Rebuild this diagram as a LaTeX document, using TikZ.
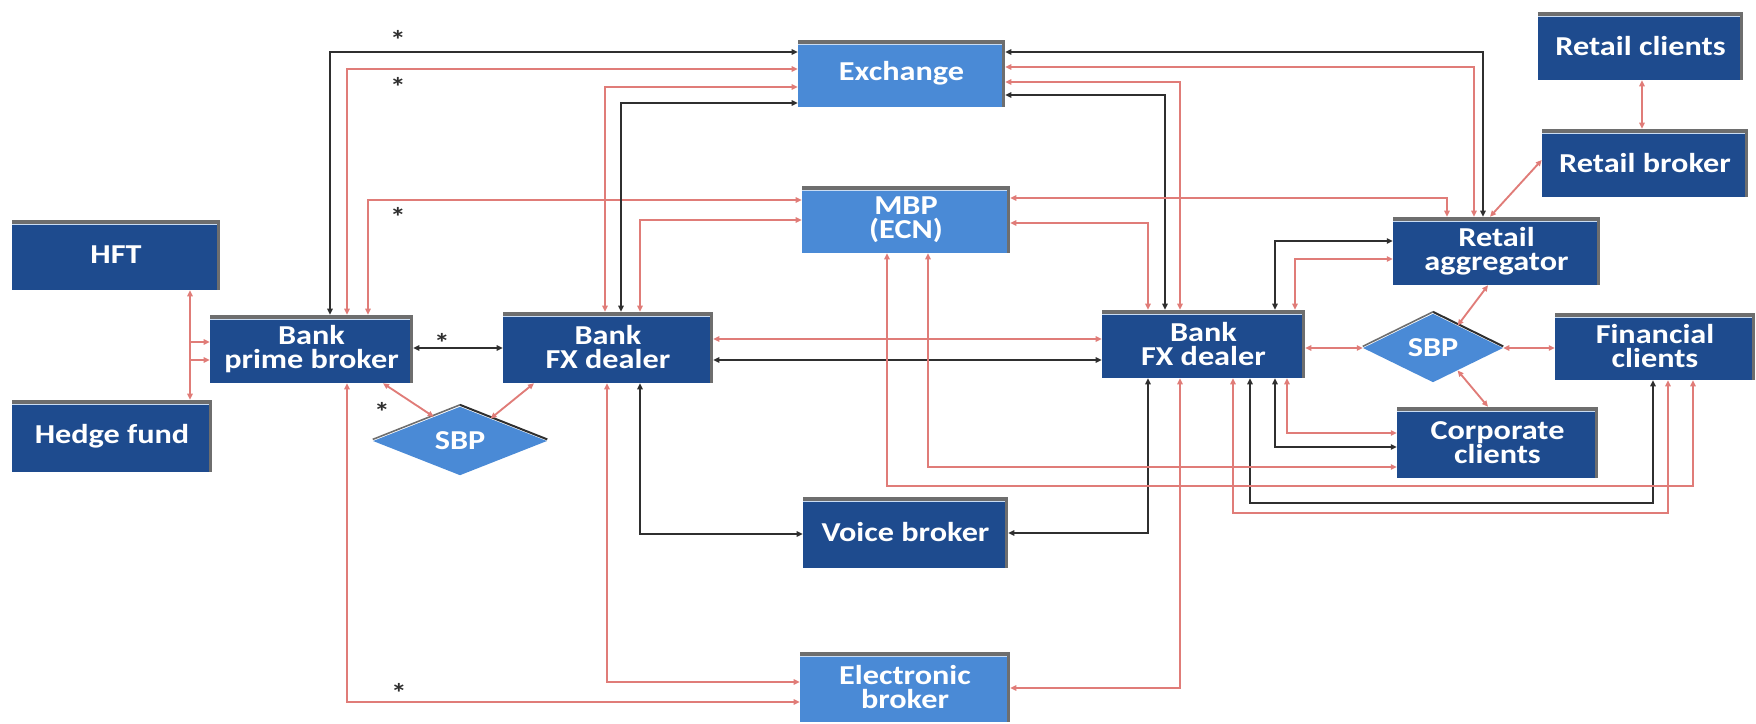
\documentclass[tikz,border=0pt]{standalone}
\usepackage{fontspec}
\newfontfamily\bxfont{Carlito}[FakeStretch=1.18]
\usetikzlibrary{arrows.meta,shapes.geometric,calc}
\definecolor{navy}{HTML}{1E4B8E}
\definecolor{lblue}{HTML}{4A8AD6}
\definecolor{barg}{HTML}{6E6E6E}
\definecolor{rcol}{HTML}{E07C78}
\definecolor{kcol}{HTML}{2F2F2F}
\begin{document}
\begin{tikzpicture}[x=0.75pt,y=-0.75pt,
  >={Triangle[length=4.5pt,width=4pt]},
  sz/.style 2 args={minimum width=#1*0.75pt,minimum height=#2*0.75pt},
  bx/.style={rectangle,inner sep=0pt,align=center,text=white,
    font=\bxfont\bfseries\fontsize{20.5pt}{18pt}\selectfont,
    path picture={
      \fill[barg] (path picture bounding box.north west) rectangle ([yshift=-3pt]path picture bounding box.north east);
      \draw[white!70!lblue,line width=0.7pt] ([yshift=-3.4pt]path picture bounding box.north west) -- ([yshift=-3.4pt]path picture bounding box.north east);
      \fill[barg] ([xshift=-2pt]path picture bounding box.north east) rectangle (path picture bounding box.south east);
    }},
  dk/.style={bx,fill=navy},
  lt/.style={bx,fill=lblue},
  dm/.style={diamond,inner sep=0pt,fill=lblue,text=white,
    font=\bxfont\bfseries\fontsize{20.5pt}{18pt}\selectfont},
  rd/.style={draw=rcol,line width=1.4pt,<->},
  bk/.style={draw=kcol,line width=1.6pt,<->},
  ast/.style={font=\bxfont\bfseries\fontsize{20pt}{20pt}\selectfont,inner sep=0pt,text=kcol}
]
\useasboundingbox (0,0) rectangle (1756,724);

% nodes
\node[dk,sz={208}{70}] (HFT) at (116,255) {HFT};
\node[dk,sz={200}{72}] (HF) at (112,436) {Hedge fund};
\node[dk,sz={203}{68}] (PB) at (311.5,349) {Bank\\prime broker};
\node[dk,sz={210}{71}] (FXL) at (608,347.5) {Bank\\FX dealer};
\node[lt,sz={207}{67}] (EX) at (901.5,73.5) {Exchange};
\node[lt,sz={208}{67}] (MBP) at (906,219.5) {MBP\\(ECN)};
\node[dk,sz={205}{71}] (VB) at (905.5,532.5) {Voice broker};
\node[lt,sz={210}{70}] (EB) at (905,687) {Electronic\\broker};
\node[dk,sz={203}{68}] (FXR) at (1203.5,344) {Bank\\FX dealer};
\node[dk,sz={207}{68}] (RA) at (1496.5,251) {Retail\\aggregator};
\node[dk,sz={205}{68}] (RC) at (1640.5,46) {Retail clients};
\node[dk,sz={206}{68}] (RB) at (1645,163) {Retail broker};
\node[dk,sz={200}{67}] (FC) at (1655,346.5) {Financial\\clients};
\node[dk,sz={201}{71}] (CC) at (1497.5,442.5) {Corporate\\clients};
\node[dm,sz={174}{60}] (SBPL) at (460,441) {SBP};
\node[dm,sz={140}{65}] (SBPR) at (1433,348) {SBP};

% diamond shadows
\draw[kcol,line width=1.5pt] ([yshift=1.2pt]SBPL.north) -- ([yshift=1.2pt]SBPL.east);
\draw[barg,line width=1.2pt] ([yshift=1.2pt]SBPL.north) -- ([yshift=1.2pt]SBPL.west);
\draw[kcol,line width=1.5pt] ([yshift=1.2pt]SBPR.north) -- ([yshift=1.2pt]SBPR.east);
\draw[barg,line width=1.2pt] ([yshift=1.2pt]SBPR.north) -- ([yshift=1.2pt]SBPR.west);

% left group
\coordinate (j1) at (190,342);
\coordinate (j2) at (190,360);
\draw[rd] (HFT.south -| 190,0) -- (HF.north -| 190,0);
\draw[rd,-] (j1) -- (j2);
\draw[draw=rcol,line width=1.4pt,->] (j1) -- (PB.west |- j1);
\draw[draw=rcol,line width=1.4pt,->] (j2) -- (PB.west |- j2);

\draw[bk] (PB.north -| 330,0) |- (EX.west |- 0,52);
\draw[rd] (PB.north -| 347,0) |- (EX.west |- 0,69);
\draw[rd] (PB.north -| 368,0) |- (MBP.west |- 0,200);
\draw[rd] (FXL.north -| 605,0) |- (EX.west |- 0,87);
\draw[bk] (FXL.north -| 621,0) |- (EX.west |- 0,103);
\draw[rd] (FXL.north -| 640,0) |- (MBP.west |- 0,220);
\draw[bk] (PB.east |- 0,348) -- (FXL.west |- 0,348);
\draw[rd] (PB.south -| 383,0) -- ($(SBPL.north)!0.3!(SBPL.west)$);
\draw[rd] (FXL.south -| 534,0) -- ($(SBPL.north)!0.35!(SBPL.east)$);
\draw[rd] (PB.south -| 347,0) |- (EB.west |- 0,702);
\draw[rd] (FXL.south -| 607,0) |- (EB.west |- 0,682);
\draw[bk] (FXL.south -| 640,0) |- (VB.west |- 0,534);
\draw[rd] (FXL.east |- 0,339) -- (FXR.west |- 0,339);
\draw[bk] (FXL.east |- 0,360) -- (FXR.west |- 0,360);

% top right
\draw[bk] (EX.east |- 0,52) -| (RA.north -| 1483,0);
\draw[rd] (EX.east |- 0,67) -| (RA.north -| 1474,0);
\draw[rd] (EX.east |- 0,82) -| (FXR.north -| 1180,0);
\draw[bk] (EX.east |- 0,95) -| (FXR.north -| 1165,0);
\draw[rd] (MBP.east |- 0,198) -| (RA.north -| 1447,0);
\draw[rd] (MBP.east |- 0,223) -| (FXR.north -| 1148,0);
\draw[bk] (FXR.north -| 1275,0) |- (RA.west |- 0,241);
\draw[rd] (FXR.north -| 1295,0) |- (RA.west |- 0,259);
\draw[rd] (RC.south -| 1642,0) -- (RB.north -| 1642,0);
\draw[rd] (RB.west |- 0,160) -- (RA.north -| 1490,0);
\draw[rd] (RA.south -| 1488,0) -- ($(SBPR.north)!0.35!(SBPR.east)$);
\draw[rd] ($(SBPR.south)!0.35!(SBPR.east)$) -- (CC.north -| 1488,0);
\draw[rd] (FXR.east |- 0,348) -- (SBPR.west);
\draw[rd] (SBPR.east) -- (FC.west |- 0,348);

% bottom right
\draw[bk] (FXR.south -| 1148,0) |- (VB.east |- 0,533);
\draw[rd] (FXR.south -| 1180,0) |- (EB.east |- 0,688);
\draw[rd] (FXR.south -| 1233,0) -- (1233,513) -| (FC.south -| 1668,0);
\draw[bk] (FXR.south -| 1250,0) -- (1250,503) -| (FC.south -| 1653,0);
\draw[bk] (FXR.south -| 1275,0) |- (CC.west |- 0,447);
\draw[rd] (FXR.south -| 1287,0) |- (CC.west |- 0,433);
\draw[rd] (MBP.south -| 928,0) |- (CC.west |- 0,467);
\draw[rd] (MBP.south -| 887,0) -- (887,486) -| (FC.south -| 1693,0);

% asterisks
\node[ast] (a1) at (398,40) {*};
\node[ast] (a2) at (398,87) {*};
\node[ast] (a3) at (398,217) {*};
\node[ast] (a4) at (442,343) {*};
\node[ast] (a5) at (382,412) {*};
\node[ast] (a6) at (399,693) {*};
\end{tikzpicture}
\end{document}
